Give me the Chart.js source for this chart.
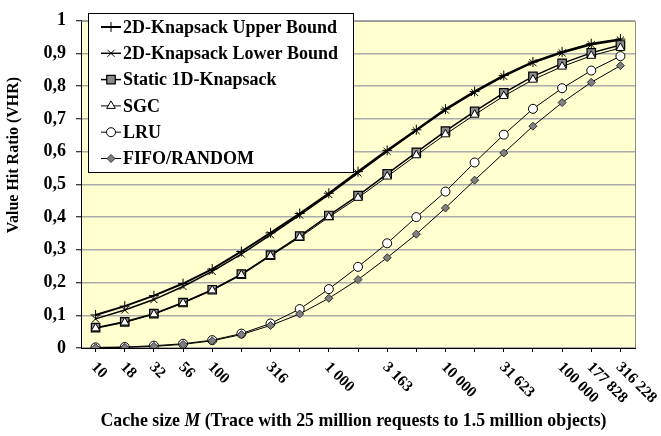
<!DOCTYPE html>
<html>
<head>
<meta charset="utf-8">
<script src="https://cdn.jsdelivr.net/npm/chart.js@4/dist/chart.umd.min.js"></script>
<style>
  html, body { margin: 0; padding: 0; background: #ffffff; }
  canvas { display: block; }
</style>
</head>
<body>
<canvas id="vhr" width="661" height="436"></canvas>
<script>
// Cache sizes, one every quarter decade; only some are labelled on the axis
const sizeLabels = ['10', '18', '32', '56', '100', '', '316', '', '1 000', '', '3 163', '',
  '10 000', '', '31 623', '', '100 000', '177 828', '316 228'];

// Value hit ratio per policy
const upperBound = [0.101, 0.128, 0.160, 0.197, 0.241, 0.295, 0.352, 0.411, 0.473, 0.539,
  0.604, 0.667, 0.730, 0.784, 0.833, 0.874, 0.905, 0.930, 0.944];
const lowerBound = [0.089, 0.116, 0.148, 0.188, 0.234, 0.287, 0.346, 0.406, 0.469, 0.535,
  0.601, 0.664, 0.727, 0.781, 0.830, 0.872, 0.902, 0.927, 0.941];
const static1D = [0.062, 0.080, 0.105, 0.139, 0.178, 0.226, 0.284, 0.342, 0.405, 0.466,
  0.532, 0.598, 0.663, 0.723, 0.780, 0.830, 0.870, 0.902, 0.926];
const sgc = [0.060, 0.078, 0.103, 0.137, 0.176, 0.223, 0.281, 0.338, 0.400, 0.459,
  0.524, 0.589, 0.653, 0.713, 0.770, 0.820, 0.860, 0.893, 0.917];
const lru = [0.002, 0.003, 0.007, 0.013, 0.024, 0.044, 0.075, 0.119, 0.180, 0.248,
  0.320, 0.400, 0.478, 0.567, 0.652, 0.731, 0.794, 0.848, 0.892];
const fifoRandom = [0.001, 0.002, 0.005, 0.011, 0.022, 0.041, 0.069, 0.104, 0.152, 0.209,
  0.276, 0.348, 0.428, 0.513, 0.596, 0.678, 0.750, 0.812, 0.863];

const yTicks = [0, 0.1, 0.2, 0.3, 0.4, 0.5, 0.6, 0.7, 0.8, 0.9, 1];

const SERIF = '"Liberation Serif", "Times New Roman", serif';

function series(label, data, style) {
  return Object.assign({
    label: label,
    data: data,
    borderColor: '#000000',
    pointBorderColor: '#000000',
    pointBorderWidth: 1,
    tension: 0,
    fill: false
  }, style);
}

const datasets = [
  series('2D-Knapsack Upper Bound', upperBound, { borderWidth: 2, pointStyle: 'cross', pointRadius: 5, pointBackgroundColor: '#000', order: 5 }),
  series('2D-Knapsack Lower Bound', lowerBound, { borderWidth: 1.5, pointStyle: 'crossRot', pointRadius: 5, pointBackgroundColor: '#000', order: 4 }),
  series('Static 1D-Knapsack', static1D, { borderWidth: 1.5, pointStyle: 'rect', pointRadius: 6, pointBackgroundColor: '#8c8c8c', pointBorderWidth: 1.2, order: 3 }),
  series('SGC', sgc, { borderWidth: 1, pointStyle: 'triangle', pointRadius: 5, pointBackgroundColor: '#ffffff', order: 2 }),
  series('LRU', lru, { borderWidth: 1, pointStyle: 'circle', pointRadius: 4.5, pointBackgroundColor: '#ffffff', order: 1 }),
  series('FIFO/RANDOM', fifoRandom, { borderWidth: 1, pointStyle: 'rectRot', pointRadius: 4, pointBackgroundColor: '#808080', pointBorderColor: '#303030', order: 0 })
];

// Simple marker renderer for the legend samples
function drawMarker(ctx, ds, x, y) {
  const r = ds.pointRadius;
  ctx.save();
  ctx.lineWidth = ds.pointBorderWidth;
  ctx.strokeStyle = ds.pointBorderColor;
  ctx.fillStyle = ds.pointBackgroundColor;
  ctx.beginPath();
  switch (ds.pointStyle) {
    case 'cross':
      ctx.moveTo(x - r, y); ctx.lineTo(x + r, y);
      ctx.moveTo(x, y - r); ctx.lineTo(x, y + r);
      ctx.stroke();
      break;
    case 'crossRot': {
      const d = r * Math.SQRT1_2;
      ctx.moveTo(x - d, y - d); ctx.lineTo(x + d, y + d);
      ctx.moveTo(x - d, y + d); ctx.lineTo(x + d, y - d);
      ctx.stroke();
      break;
    }
    case 'rect': {
      const s = r * Math.SQRT1_2;
      ctx.rect(x - s, y - s, 2 * s, 2 * s);
      ctx.fill(); ctx.stroke();
      break;
    }
    case 'triangle':
      for (let k = 0; k < 3; k++) {
        const a = -Math.PI / 2 + k * 2 * Math.PI / 3;
        const px = x + Math.cos(a) * r, py = y + Math.sin(a) * r;
        if (k === 0) ctx.moveTo(px, py); else ctx.lineTo(px, py);
      }
      ctx.closePath(); ctx.fill(); ctx.stroke();
      break;
    case 'circle':
      ctx.arc(x, y, r, 0, Math.PI * 2);
      ctx.fill(); ctx.stroke();
      break;
    case 'rectRot':
      ctx.moveTo(x, y - r); ctx.lineTo(x + r, y); ctx.lineTo(x, y + r); ctx.lineTo(x - r, y);
      ctx.closePath(); ctx.fill(); ctx.stroke();
      break;
  }
  ctx.restore();
}

const plotDecor = {
  id: 'plotDecor',
  beforeDraw(chart) {
    const { ctx, chartArea: a } = chart;
    ctx.save();
    ctx.fillStyle = '#ffffcf';
    ctx.fillRect(a.left, a.top, a.right - a.left, a.bottom - a.top);
    ctx.restore();
  },
  afterDraw(chart) {
    const { ctx, chartArea: a } = chart;
    const xs = chart.scales.x;
    ctx.save();

    // grey frame on the open sides of the plot
    ctx.strokeStyle = '#8a8a8a';
    ctx.lineWidth = 1;
    ctx.beginPath();
    ctx.moveTo(a.left, a.top + 0.5); ctx.lineTo(a.right + 0.5, a.top + 0.5); ctx.lineTo(a.right + 0.5, a.bottom);
    ctx.stroke();

    // slanted category labels
    ctx.fillStyle = '#000';
    ctx.font = 'bold 15.5px ' + SERIF;
    ctx.textAlign = 'left';
    ctx.textBaseline = 'middle';
    sizeLabels.forEach((lab, i) => {
      if (!lab) return;
      const x = xs.getPixelForValue(i);
      ctx.save();
      ctx.translate(x - 2, a.bottom + 17);
      ctx.rotate(Math.PI / 4);
      ctx.fillText(lab, 0, 0);
      ctx.restore();
    });

    // y axis title
    ctx.save();
    ctx.font = 'bold 16px ' + SERIF;
    ctx.textAlign = 'center';
    ctx.textBaseline = 'middle';
    ctx.translate(14, 155);
    ctx.rotate(-Math.PI / 2);
    ctx.fillText('Value Hit Ratio (VHR)', 0, 0);
    ctx.restore();

    // x axis title with italic M
    const parts = [
      { t: 'Cache size ', f: 'bold 17.8px ' + SERIF },
      { t: 'M', f: 'italic bold 17.8px ' + SERIF },
      { t: ' (Trace with 25 million requests to 1.5 million objects)', f: 'bold 17.8px ' + SERIF }
    ];
    let total = 0;
    parts.forEach(p => { ctx.font = p.f; p.w = ctx.measureText(p.t).width; total += p.w; });
    let tx = 353.5 - total / 2;
    ctx.textAlign = 'left';
    ctx.textBaseline = 'middle';
    parts.forEach(p => { ctx.font = p.f; ctx.fillText(p.t, tx, 421); tx += p.w; });

    // legend box
    const bx = 88.5, by = 13.5, bw = 265, bh = 159;
    ctx.fillStyle = '#ffffff';
    ctx.fillRect(bx, by, bw, bh);
    ctx.strokeStyle = '#000';
    ctx.lineWidth = 1;
    ctx.strokeRect(bx, by, bw, bh);
    ctx.font = 'bold 18px ' + SERIF;
    ctx.textBaseline = 'middle';
    datasets.forEach((ds, i) => {
      const y = 27 + i * 26.3;
      ctx.strokeStyle = '#000';
      ctx.lineWidth = ds.borderWidth;
      ctx.beginPath();
      ctx.moveTo(101, y); ctx.lineTo(121, y);
      ctx.stroke();
      drawMarker(ctx, ds, 111, y);
      ctx.fillStyle = '#000';
      ctx.fillText(ds.label, 123, y + 1);
    });
    ctx.restore();
  }
};

new Chart(document.getElementById('vhr'), {
  type: 'line',
  data: { labels: sizeLabels, datasets: datasets },
  options: {
    responsive: false,
    animation: false,
    layout: { padding: { top: 8, right: 26, left: 0, bottom: 0 } },
    plugins: { legend: { display: false }, tooltip: { enabled: false } },
    scales: {
      x: {
        type: 'category',
        offset: true,
        grid: { display: true, drawOnChartArea: false, drawTicks: true, tickLength: 4, offset: false, tickColor: '#000' },
        border: { display: true, color: '#000', width: 1 },
        ticks: { display: true, autoSkip: false, maxRotation: 0, callback: () => '' },
        afterFit(s) { s.height = 88; }
      },
      y: {
        min: 0,
        max: 1,
        afterBuildTicks(s) { s.ticks = yTicks.map(v => ({ value: v })); },
        grid: { color: '#ababab', lineWidth: 1.5, tickLength: 5, tickColor: '#000', tickWidth: 1 },
        border: { display: true, color: '#000', width: 1 },
        ticks: {
          padding: 10,
          color: '#000',
          font: { family: SERIF, weight: 'bold', size: 18 },
          callback: v => (v === 0 || v === 1) ? String(v) : v.toFixed(1).replace('.', ',')
        },
        title: { display: false },
        afterFit(s) { s.width = 81; }
      }
    }
  },
  plugins: [plotDecor]
});
</script>
</body>
</html>
